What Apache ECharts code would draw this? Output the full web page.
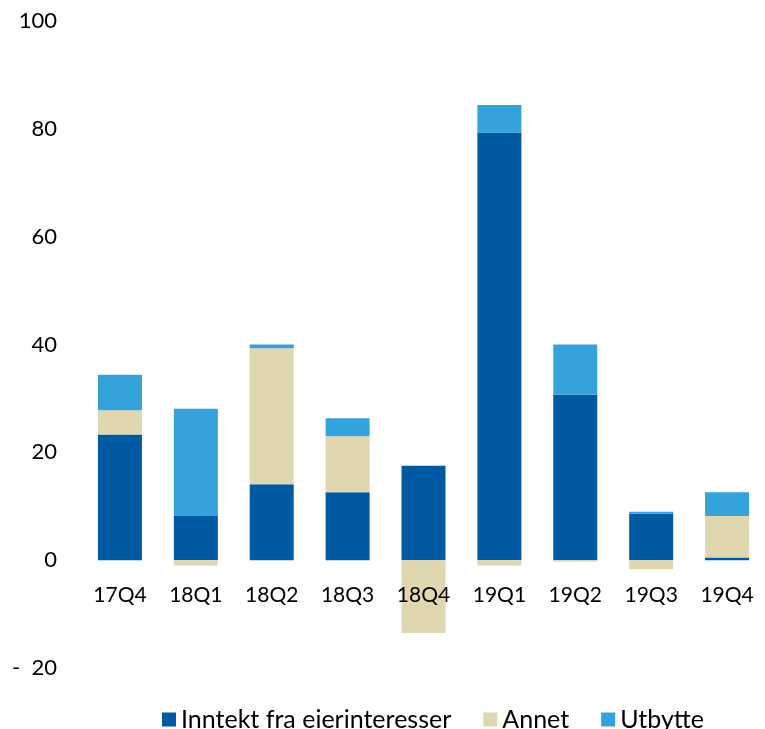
<!DOCTYPE html>
<html>
<head>
<meta charset="utf-8">
<script src="https://cdn.jsdelivr.net/npm/echarts@6/dist/echarts.min.js"></script>
<style>
	html, body { margin: 0; padding: 0; background: #fff; }
	#chart { width: 765px; height: 729px; }
</style>
</head>
<body>
<div id="chart"></div>
<script>
	var quarters = ['17Q4', '18Q1', '18Q2', '18Q3', '18Q4', '19Q1', '19Q2', '19Q3', '19Q4'];
	var inntekt = [23.3, 8.2, 14.1, 12.6, 17.5, 79.3, 30.7, 8.6, 0.5];
	var annet = [4.5, -1.0, 25.2, 10.4, -13.5, -1.0, -0.3, -1.7, 7.7];
	var utbytte = [6.6, 19.9, 0.7, 3.3, 0, 5.1, 9.3, 0.4, 4.4];

	var font = 'Lato, "Open Sans", sans-serif';

	var option = {
		animation: false,
		textStyle: { fontFamily: font },
		grid: {
			left: 82,
			right: -8,
			top: 21,
			bottom: 61
		},
		legend: {
			left: 157,
			top: 702,
			itemWidth: 14,
			itemHeight: 14,
			itemGap: 32,
			icon: 'rect',
			textStyle: { fontSize: 25, color: '#000', fontFamily: font },
			data: ['Inntekt fra eierinteresser', 'Annet', 'Utbytte']
		},
		xAxis: {
			type: 'category',
			data: quarters,
			// labels sit just under the zero line, drawn over the bars
			offset: -108,
			z: 10,
			axisLine: { show: false, onZero: false },
			axisTick: { show: false },
			axisLabel: { fontSize: 21, color: '#000', margin: 25 }
		},
		yAxis: {
			type: 'value',
			min: -20,
			max: 100,
			interval: 20,
			splitLine: { show: false },
			axisLine: { show: false },
			axisTick: { show: false },
			axisLabel: {
				fontSize: 22,
				color: '#000',
				margin: 25,
				formatter: function (v) {
					return v < 0 ? '-  ' + Math.abs(v) : String(v);
				}
			}
		},
		series: [
			{
				name: 'Inntekt fra eierinteresser',
				type: 'bar',
				stack: 'tot',
				barWidth: 44,
				itemStyle: { color: '#005AA3' },
				data: inntekt
			},
			{
				name: 'Annet',
				type: 'bar',
				stack: 'tot',
				barWidth: 44,
				itemStyle: { color: '#E0D7B0' },
				data: annet
			},
			{
				name: 'Utbytte',
				type: 'bar',
				stack: 'tot',
				barWidth: 44,
				itemStyle: { color: '#34A3DC' },
				data: utbytte
			}
		]
	};

	var myChart = echarts.init(document.getElementById('chart'));
	myChart.setOption(option);
</script>
</body>
</html>
